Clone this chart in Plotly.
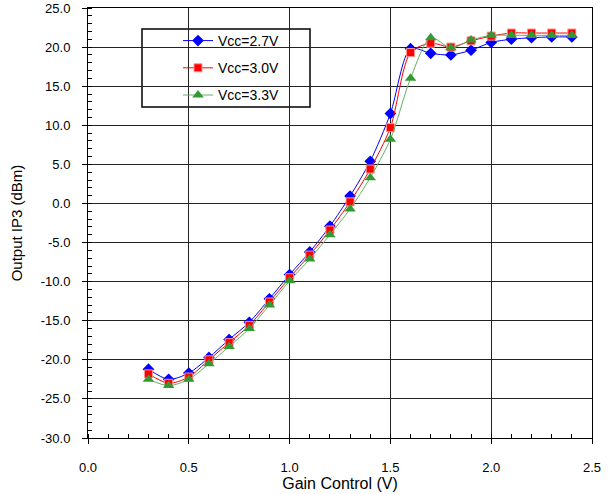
import plotly.graph_objects as go

gain_v = [0.3, 0.4, 0.5, 0.6, 0.7, 0.8, 0.9, 1.0, 1.1, 1.2, 1.3, 1.4, 1.5, 1.6, 1.7, 1.8, 1.9, 2.0, 2.1, 2.2, 2.3, 2.4]
ip3_27 = [-21.2, -22.5, -21.7, -19.7, -17.4, -15.2, -12.2, -9.1, -6.2, -2.9, 0.95, 5.4, 11.5, 19.8, 19.2, 19.0, 19.6, 20.6, 21.0, 21.2, 21.3, 21.3]
ip3_30 = [-21.8, -23.0, -22.2, -20.0, -17.8, -15.6, -12.6, -9.5, -6.6, -3.4, 0.2, 4.4, 9.7, 19.3, 20.5, 20.0, 20.8, 21.4, 21.8, 21.8, 21.8, 21.8]
ip3_33 = [-22.5, -23.3, -22.5, -20.5, -18.3, -16.0, -13.0, -9.9, -7.1, -4.0, -0.7, 3.3, 8.2, 16.0, 21.2, 19.9, 20.9, 21.5, 21.5, 21.5, 21.5, 21.5]

x_ticks = [0.0, 0.5, 1.0, 1.5, 2.0, 2.5]
x_ticklabels = ["0.0", "0.5", "1.0", "1.5", "2.0", "2.5"]
y_ticks = [25, 20, 15, 10, 5, 0, -5, -10, -15, -20, -25, -30]
y_ticklabels = ["25.0", "20.0", "15.0", "10.0", "5.0", "0.0", "-5.0", "-10.0", "-15.0", "-20.0", "-25.0", "-30.0"]

FONT = "Liberation Sans, Arial, sans-serif"

fig = go.Figure()
fig.add_trace(go.Scatter(x=gain_v, y=ip3_27, name="Vcc=2.7V", mode="lines+markers",
                         legendgroup="a",
                         line=dict(color="#0000ff", width=1, shape="spline", smoothing=0.8),
                         marker=dict(symbol="diamond", size=9, color="#0000ff")))
fig.add_trace(go.Scatter(x=gain_v, y=ip3_30, name="Vcc=3.0V", mode="lines+markers",
                         legendgroup="b",
                         line=dict(color="#ff0000", width=1, shape="spline", smoothing=0.8),
                         marker=dict(symbol="square", size=8, color="#ff0000",
                                     line=dict(color="#ff9090", width=1))))
fig.add_trace(go.Scatter(x=gain_v, y=ip3_33, name="Vcc=3.3V", mode="lines+markers",
                         legendgroup="c",
                         line=dict(color="#66b266", width=1, shape="spline", smoothing=0.8),
                         marker=dict(symbol="triangle-up", size=10, color="#339933")))

fig.add_shape(type="rect", xref="paper", yref="paper",
              x0=(142 - 88) / 504, x1=(310 - 88) / 504,
              y0=(438 - 107) / 430, y1=(438 - 29) / 430,
              line=dict(color="black", width=1.5), fillcolor="white", layer="below")

fig.update_layout(
    width=608, height=494,
    margin=dict(l=88, r=16, t=8, b=56),
    paper_bgcolor="white", plot_bgcolor="white",
    font=dict(family=FONT, size=13, color="black"),
    showlegend=True,
    legend=dict(x=(178 - 88) / 504, y=(438 - 25) / 430, xanchor="left", yanchor="top",
                bgcolor="rgba(0,0,0,0)", borderwidth=0, tracegroupgap=6,
                font=dict(family=FONT, size=14), itemwidth=30),
    xaxis=dict(range=[0, 2.5], tickvals=x_ticks, ticktext=x_ticklabels, automargin=False,
               showgrid=True, gridcolor="#222", gridwidth=1, zeroline=False,
               showline=True, linecolor="black", linewidth=1, mirror=True,
               ticks="outside", ticklen=5, tickcolor="black", ticklabelstandoff=12,
               minor=dict(dtick=0.1, ticks="inside", ticklen=4, tickcolor="black", showgrid=False),
               title=dict(text="Gain Control (V)", font=dict(size=16), standoff=3),
               tickfont=dict(size=13)),
    yaxis=dict(range=[-30, 25], tickvals=y_ticks, ticktext=y_ticklabels, automargin=False,
               showgrid=True, gridcolor="#222", gridwidth=1, zeroline=False,
               showline=True, linecolor="black", linewidth=1, mirror=True,
               ticks="outside", ticklen=5, tickcolor="black", ticklabelstandoff=9,
               minor=dict(dtick=1, ticks="inside", ticklen=4, tickcolor="black", showgrid=False),
               title=dict(text="Output IP3 (dBm)", font=dict(size=15), standoff=14),
               tickfont=dict(size=13)),
)

fig.write_html("out.html", config={"displayModeBar": False},
               post_script="document.body.style.margin='0';")
